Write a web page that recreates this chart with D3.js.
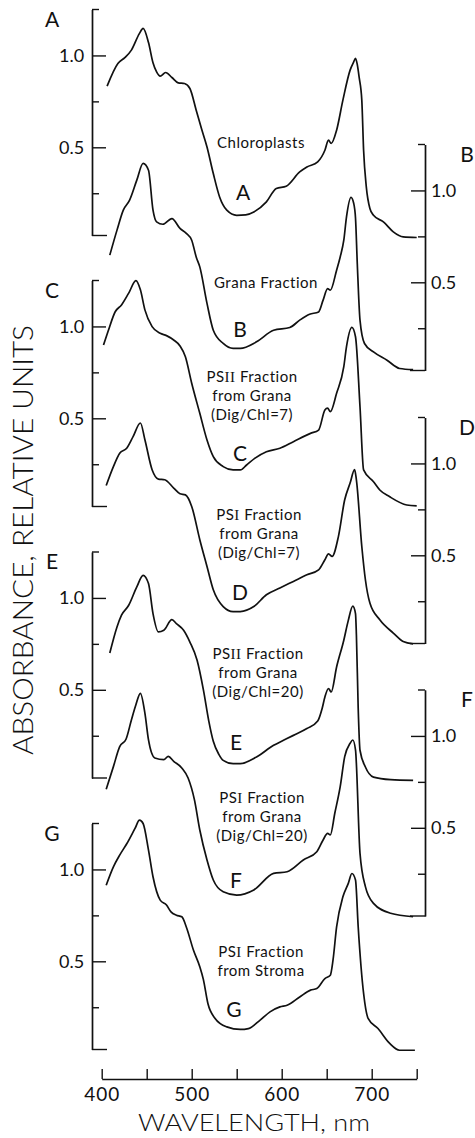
<!DOCTYPE html>
<html>
<head>
<meta charset="utf-8">
<script src="https://cdnjs.cloudflare.com/ajax/libs/d3/7.8.5/d3.min.js"></script>
<style>
  html, body { margin: 0; padding: 0; background: #fff; }
  svg { display: block; }
  text { font-family: "Lato", "DejaVu Sans", sans-serif; fill: #111; }
</style>
</head>
<body>
<svg id="chart" width="475" height="1138"></svg>
<script>
// Absorption spectra (relative units) of chloroplasts and their fractions.

// wavelength axis
const xTicks = [400, 450, 500, 550, 600, 650, 700, 750];
const xTickLabels = ["400", "", "500", "", "600", "", "700", ""];
const yMajorTicks = [0.5, 1.0];
const yMinorTicks = [0.25, 0.75];
const yTickLabels = ["0.5", "1.0"];

// A: chloroplasts
const wlA = [406, 418, 426, 433, 442, 446, 452, 457, 461, 465, 471, 478, 485, 492, 498, 505, 511, 517, 524, 531, 539, 550, 560, 569, 583, 594, 605, 620, 628, 640, 648, 652, 655, 661, 668, 676, 680, 682, 684, 686, 689, 691, 694, 698, 702, 713, 724, 735, 750];
const absA = [0.833, 0.956, 0.989, 1.029, 1.120, 1.147, 1.070, 0.960, 0.910, 0.887, 0.907, 0.880, 0.851, 0.847, 0.820, 0.702, 0.600, 0.502, 0.357, 0.230, 0.158, 0.130, 0.132, 0.148, 0.203, 0.276, 0.288, 0.366, 0.393, 0.421, 0.484, 0.539, 0.521, 0.593, 0.757, 0.920, 0.965, 0.984, 0.950, 0.883, 0.757, 0.484, 0.285, 0.167, 0.130, 0.094, 0.040, 0.012, 0.009];

// B: grana fraction
const wlB = [409, 417, 424, 431, 439, 446, 452, 457, 461, 468, 478, 487, 494, 500, 505, 509, 517, 524, 535, 546, 554, 572, 591, 609, 620, 631, 641, 646, 651, 654, 661, 665, 669, 672, 677, 680, 682, 684, 687, 692, 702, 717, 731, 746];
const absB = [0.648, 0.784, 0.893, 0.947, 1.056, 1.147, 1.110, 0.893, 0.829, 0.816, 0.847, 0.793, 0.766, 0.729, 0.638, 0.584, 0.385, 0.239, 0.167, 0.140, 0.140, 0.176, 0.239, 0.254, 0.294, 0.326, 0.339, 0.403, 0.466, 0.457, 0.566, 0.638, 0.729, 0.856, 0.962, 0.930, 0.850, 0.600, 0.294, 0.167, 0.121, 0.076, 0.031, 0.025];

// C: PSII fraction from grana (Dig/Chl = 7)
const wlC = [402, 407, 415, 422, 430, 438, 443, 448, 456, 465, 472, 480, 487, 493, 500, 509, 517, 524, 535, 546, 554, 561, 570, 583, 598, 613, 632, 641, 648, 651, 654, 661, 669, 672, 678, 682, 687, 691, 702, 709, 720, 739, 750];
const absC = [0.899, 0.972, 1.080, 1.117, 1.181, 1.249, 1.199, 1.090, 0.999, 0.963, 0.950, 0.926, 0.894, 0.835, 0.691, 0.527, 0.382, 0.291, 0.237, 0.219, 0.219, 0.246, 0.282, 0.318, 0.337, 0.373, 0.418, 0.436, 0.545, 0.555, 0.536, 0.636, 0.781, 0.890, 0.995, 0.944, 0.563, 0.219, 0.155, 0.110, 0.073, 0.028, 0.023];

// D: PSI fraction from grana (Dig/Chl = 7)
const wlD = [405, 413, 420, 428, 435, 443, 448, 456, 463, 470, 480, 487, 493, 500, 509, 517, 524, 535, 546, 554, 569, 583, 598, 613, 628, 641, 648, 652, 656, 663, 670, 676, 681, 683, 689, 693, 698, 709, 724, 735, 746];
const absD = [0.880, 0.983, 1.056, 1.084, 1.147, 1.220, 1.129, 0.966, 0.915, 0.911, 0.866, 0.835, 0.829, 0.766, 0.585, 0.439, 0.312, 0.221, 0.194, 0.194, 0.221, 0.285, 0.322, 0.358, 0.394, 0.421, 0.476, 0.508, 0.494, 0.602, 0.802, 0.893, 0.966, 0.911, 0.548, 0.367, 0.240, 0.149, 0.077, 0.031, 0.018];

// E: PSII fraction from grana (Dig/Chl = 20)
const wlE = [409, 417, 422, 430, 439, 446, 452, 457, 463, 469, 478, 483, 491, 498, 506, 513, 519, 524, 530, 535, 546, 554, 572, 591, 602, 613, 628, 640, 645, 648, 652, 655, 661, 669, 674, 679, 682, 683, 685, 687, 693, 702, 721, 746];
const absE = [0.700, 0.842, 0.906, 0.960, 1.060, 1.123, 1.078, 0.915, 0.815, 0.824, 0.882, 0.860, 0.824, 0.760, 0.661, 0.500, 0.330, 0.220, 0.150, 0.116, 0.098, 0.098, 0.134, 0.198, 0.225, 0.252, 0.289, 0.330, 0.400, 0.461, 0.507, 0.488, 0.624, 0.770, 0.878, 0.955, 0.915, 0.800, 0.400, 0.171, 0.080, 0.025, 0.011, 0.007];

// F: PSI fraction from grana (Dig/Chl = 20)
const wlF = [405, 413, 420, 427, 433, 438, 443, 448, 452, 459, 469, 474, 480, 489, 496, 503, 509, 517, 524, 535, 550, 569, 591, 606, 624, 639, 646, 651, 654, 659, 665, 670, 676, 679, 682, 687, 693, 702, 721, 746];
const absF = [0.710, 0.833, 0.942, 0.982, 1.087, 1.170, 1.232, 1.124, 0.978, 0.880, 0.871, 0.889, 0.862, 0.826, 0.771, 0.653, 0.488, 0.325, 0.216, 0.152, 0.134, 0.162, 0.252, 0.261, 0.325, 0.370, 0.434, 0.470, 0.461, 0.579, 0.724, 0.887, 0.960, 0.978, 0.924, 0.361, 0.180, 0.089, 0.035, 0.016];

// G: PSI fraction from stroma
const wlG = [405, 413, 420, 428, 437, 442, 446, 452, 457, 465, 472, 477, 483, 489, 494, 502, 509, 513, 518, 526, 539, 554, 563, 576, 587, 598, 606, 620, 632, 639, 648, 654, 657, 661, 668, 674, 678, 682, 685, 691, 696, 707, 720, 731, 748];
const absG = [0.914, 1.014, 1.078, 1.141, 1.223, 1.268, 1.250, 1.105, 0.960, 0.833, 0.806, 0.769, 0.751, 0.742, 0.687, 0.560, 0.470, 0.400, 0.270, 0.189, 0.143, 0.129, 0.134, 0.180, 0.225, 0.252, 0.261, 0.306, 0.343, 0.352, 0.406, 0.424, 0.506, 0.687, 0.851, 0.924, 0.978, 0.942, 0.687, 0.325, 0.189, 0.134, 0.053, 0.016, 0.016];

const panelLetters = ["A", "B", "C", "D", "E", "F", "G"];
const curveCaptions = [
  ["Chloroplasts"],
  ["Grana Fraction"],
  ["PS|II| Fraction", "from Grana", "(Dig/Chl=7)"],
  ["PS|I| Fraction", "from Grana", "(Dig/Chl=7)"],
  ["PS|II| Fraction", "from Grana", "(Dig/Chl=20)"],
  ["PS|I| Fraction", "from Grana", "(Dig/Chl=20)"],
  ["PS|I| Fraction", "from Stroma"]
];
const spectraWl = [wlA, wlB, wlC, wlD, wlE, wlF, wlG];
const spectraAbs = [absA, absB, absC, absD, absE, absF, absG];

// ---- layout ----
const svg = d3.select("#chart");
const xLeft = 101.7, xRight = 416.7;
const x = d3.scaleLinear().domain([400, 750]).range([xLeft, xRight]);
const leftAxisX = 92, rightAxisX = 425;
const panelTops = [9.5, 144.5, 280.5, 417.5, 552, 690, 823.5];
const panelH = 226;
const yDomain = [0.02, 1.25];
const axisSides = ["left", "right", "left", "right", "left", "right", "left"];
const captionPos = [
  {cx: 261, y0: 148, letterX: 243, letterY: 200},
  {cx: 266, y0: 288, letterX: 240, letterY: 337},
  {cx: 252, y0: 382, letterX: 240, letterY: 461},
  {cx: 259, y0: 520, letterX: 240, letterY: 600},
  {cx: 258, y0: 659, letterX: 236, letterY: 750},
  {cx: 262, y0: 803, letterX: 236, letterY: 888},
  {cx: 261, y0: 957, letterX: 234, letterY: 1017}
];

const line = d3.line().curve(d3.curveMonotoneX);

panelTops.forEach((top, i) => {
  const y = d3.scaleLinear().domain(yDomain).range([top + panelH, top]);
  const side = axisSides[i];
  const ax = side === "left" ? leftAxisX : rightAxisX;
  const dir = side === "left" ? 1 : -1; // ticks point toward the curves
  const g = svg.append("g").attr("transform", `translate(${ax},0)`);

  // labelled ticks
  const major = (side === "left" ? d3.axisLeft(y) : d3.axisRight(y))
    .tickValues(yMajorTicks)
    .tickFormat((d, k) => yTickLabels[k])
    .tickSizeInner(-14)
    .tickSizeOuter(0)
    .tickPadding(6);
  g.append("g").call(major);

  // unlabelled ticks
  const minor = (side === "left" ? d3.axisLeft(y) : d3.axisRight(y))
    .tickValues(yMinorTicks)
    .tickFormat("")
    .tickSizeInner(-7)
    .tickSizeOuter(0);
  g.append("g").call(minor);

  // bracket ends
  g.append("line").attr("x1", 0).attr("x2", 7 * dir)
    .attr("y1", y(yDomain[1])).attr("y2", y(yDomain[1]));
  g.append("line").attr("x1", 0).attr("x2", 15 * dir)
    .attr("y1", y(yDomain[0])).attr("y2", y(yDomain[0]));

  g.selectAll("path.domain").attr("stroke", "#111").attr("stroke-width", 1.4);
  g.selectAll("line").attr("stroke", "#111").attr("stroke-width", 1.4);
  g.selectAll("text").attr("font-size", 18).attr("fill", "#111")
    .style("font-family", "Lato, DejaVu Sans, sans-serif").style("font-weight", 400);
  if (side === "left") g.selectAll("text").attr("dx", "-0.1em");

  // panel letter
  svg.append("text")
    .attr("x", side === "left" ? 52 : 467)
    .attr("y", top + 17)
    .attr("text-anchor", "middle")
    .attr("font-size", 21)
    .style("font-weight", 400)
    .text(panelLetters[i]);

  // spectrum
  const pts = spectraWl[i].map((w, k) => [x(w), y(spectraAbs[i][k])]);
  svg.append("path")
    .attr("d", line(pts))
    .attr("fill", "none")
    .attr("stroke", "#111")
    .attr("stroke-width", 1.7)
    .attr("stroke-linejoin", "round");

  // caption
  const cp = captionPos[i];
  curveCaptions[i].forEach((ln, k) => {
    const t = svg.append("text")
      .attr("x", cp.cx)
      .attr("y", cp.y0 + k * 19)
      .attr("text-anchor", "middle")
      .attr("font-size", 15)
      .attr("letter-spacing", 0.5)
      .style("font-weight", 400);
    ln.split("|").forEach((part, m) => {
      const s = t.append("tspan").text(part);
      if (m === 1) s.style("font-family", "Liberation Serif, serif").style("font-size", "15px");
    });
  });
  svg.append("text")
    .attr("x", cp.letterX)
    .attr("y", cp.letterY)
    .attr("text-anchor", "middle")
    .attr("font-size", 21)
    .style("font-weight", 400)
    .text(panelLetters[i]);
});

// wavelength axis
const xAxisY = 1079;
const xa = svg.append("g").attr("transform", `translate(0,${xAxisY})`)
  .call(d3.axisBottom(x)
    .tickValues(xTicks)
    .tickFormat((d, k) => xTickLabels[k])
    .tickSizeInner(-10)
    .tickSizeOuter(0)
    .tickPadding(9));
xa.selectAll("path.domain").attr("stroke", "#111").attr("stroke-width", 1.4);
xa.selectAll("line").attr("stroke", "#111").attr("stroke-width", 1.4);
xa.selectAll("text").attr("font-size", 19).attr("fill", "#111")
  .style("font-family", "Lato, DejaVu Sans, sans-serif").style("font-weight", 400)
  .attr("letter-spacing", 1);

svg.append("text")
  .attr("x", 254)
  .attr("y", 1131)
  .attr("text-anchor", "middle")
  .attr("font-size", 23)
  .style("font-weight", 300)
  .attr("textLength", 232)
  .attr("lengthAdjust", "spacingAndGlyphs")
  .text("WAVELENGTH, nm");

svg.append("text")
  .attr("transform", "translate(33,540) rotate(-90)")
  .attr("text-anchor", "middle")
  .attr("font-size", 27)
  .style("font-weight", 300)
  .attr("textLength", 430)
  .attr("lengthAdjust", "spacingAndGlyphs")
  .text("ABSORBANCE, RELATIVE UNITS");
</script>
</body>
</html>
